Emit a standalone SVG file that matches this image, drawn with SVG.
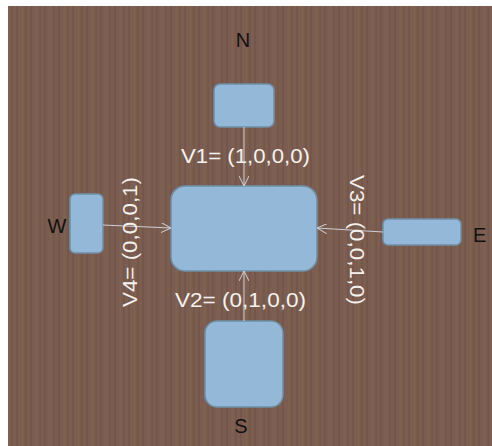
<svg xmlns="http://www.w3.org/2000/svg" width="492" height="446" viewBox="0 0 492 446">
<style>
.node{fill:#93b8d8;stroke:#6f8ea6;stroke-width:1.5}
.conn{stroke:#cfd0d8;stroke-width:1;fill:none;marker-end:url(#arr)}
.dir{font-family:"Liberation Sans",Arial,sans-serif;font-size:20px;fill:#111}
.lbl{font-family:"Liberation Sans",Arial,sans-serif;font-size:20px;fill:#f4f2ee}
</style>
<defs>
<pattern id="wood" width="14" height="10" patternUnits="userSpaceOnUse">
<rect width="14" height="10" fill="#7b5d51"/>
<rect x="2" width="2" height="10" fill="#74564a"/>
<rect x="8" width="1" height="10" fill="#80624f"/>
<rect x="11" width="2" height="10" fill="#765849"/>
</pattern>
<marker id="arr" viewBox="0 0 10 10" refX="10" refY="5" markerWidth="10" markerHeight="10" markerUnits="userSpaceOnUse" orient="auto">
<path d="M0,0 L10,5 L0,10" fill="none" stroke="#cfd0d8" stroke-width="1"/>
</marker>
</defs>
<rect width="492" height="446" fill="#ffffff"/>
<rect x="8" y="6" width="484" height="440" fill="url(#wood)"/>
<g id="center"><rect class="node" x="171" y="186" width="146" height="85" rx="14"/></g>
<g id="north"><rect class="node" x="214" y="84" width="60" height="43" rx="6"/><text class="dir" x="243" y="47" text-anchor="middle">N</text></g>
<g id="south"><rect class="node" x="205" y="321" width="78" height="86" rx="12"/><text class="dir" x="241" y="433" text-anchor="middle">S</text></g>
<g id="west"><rect class="node" x="70" y="194" width="33" height="59" rx="5"/><text class="dir" x="57" y="233" text-anchor="middle">W</text></g>
<g id="east"><rect class="node" x="383" y="219" width="78" height="26" rx="5"/><text class="dir" x="473" y="242">E</text></g>
<g id="connectors">
<line class="conn" x1="244" y1="127" x2="244" y2="186"/>
<line class="conn" x1="244" y1="321" x2="244" y2="271"/>
<line class="conn" x1="103" y1="225" x2="171" y2="228"/>
<line class="conn" x1="383" y1="232" x2="317" y2="228"/>
</g>
<g id="labels">
<text class="lbl" x="181" y="163" textLength="129" lengthAdjust="spacingAndGlyphs">V1= (1,0,0,0)</text>
<text class="lbl" x="175" y="307" textLength="131" lengthAdjust="spacingAndGlyphs">V2= (0,1,0,0)</text>
<text class="lbl" transform="translate(350,175) rotate(90)" x="0" y="0" textLength="130" lengthAdjust="spacingAndGlyphs">V3= (0,0,1,0)</text>
<text class="lbl" transform="translate(137,307) rotate(-90)" x="0" y="0" textLength="130" lengthAdjust="spacingAndGlyphs">V4= (0,0,0,1)</text>
</g>
</svg>
